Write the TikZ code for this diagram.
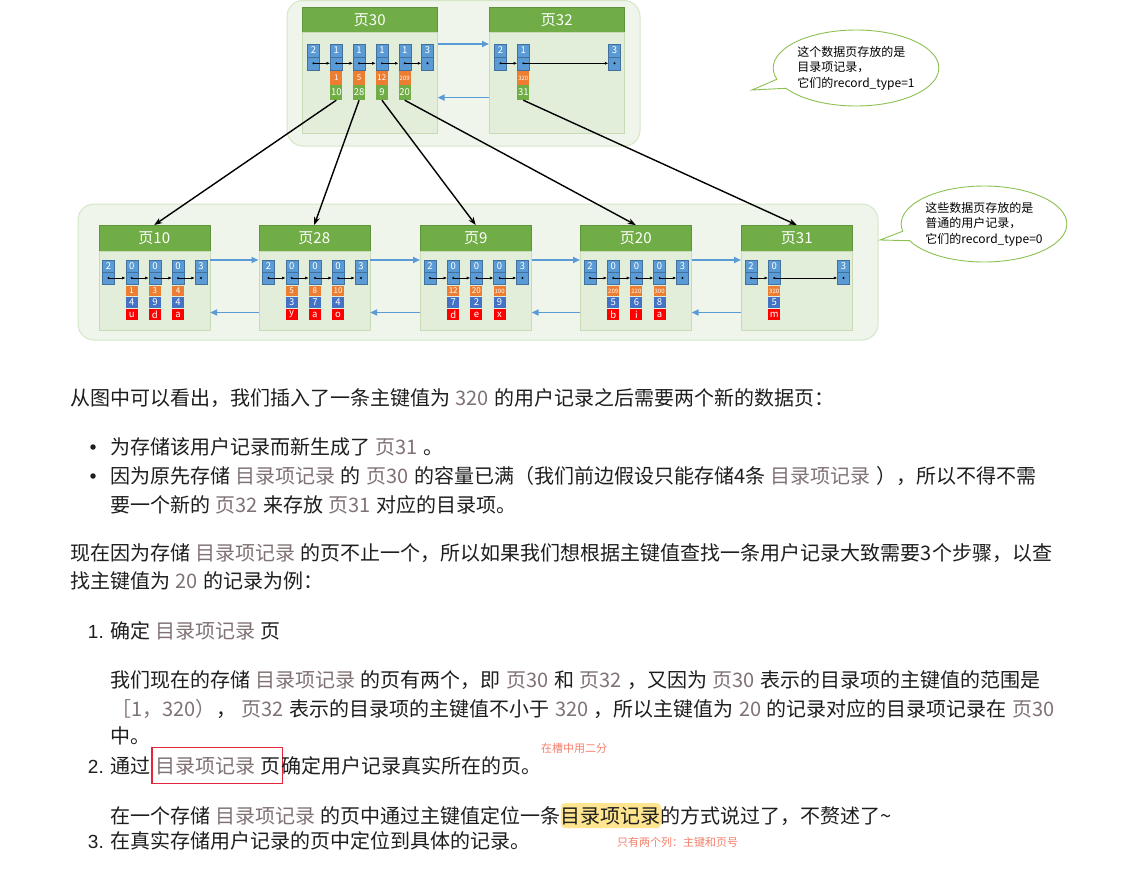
\documentclass[tikz,border=0pt]{standalone}
\usepackage{fontspec}
\setmainfont{Noto Sans CJK SC}
\newfontfamily\latinfont{Liberation Sans}
\usepackage{tikz}
\usetikzlibrary{positioning,shapes.callouts,arrows.meta}
\usepackage{xcolor}
\definecolor{headgreen}{HTML}{70AD47}
\definecolor{bodygreen}{HTML}{E2EEDA}
\definecolor{bodyedge}{HTML}{C6DBB6}
\definecolor{groupfill}{HTML}{EFF5EA}
\definecolor{groupedge}{HTML}{D5E6C8}
\definecolor{slotblue}{HTML}{5B9BD5}
\definecolor{slotedge}{HTML}{41719C}
\definecolor{keyorange}{HTML}{ED7D31}
\definecolor{valblue}{HTML}{4472C4}
\definecolor{charred}{HTML}{FF0000}
\definecolor{linkblue}{HTML}{5B9BD5}
\definecolor{bubblegreen}{HTML}{8CC152}
\definecolor{codegray}{RGB}{128,114,116}
\definecolor{notered}{RGB}{246,128,108}
\definecolor{marker}{HTML}{FFE58F}
\definecolor{boxred}{HTML}{E3263A}
\definecolor{ink}{HTML}{1E1E1E}

\newcommand{\bodysize}{\fontsize{20}{24}\selectfont}
\newcommand{\code}[1]{\hspace{1pt}{\color{codegray}#1}\hspace{1pt}}
\newcommand{\keytext}[1]{\ifnum#1>99 \fontsize{6}{6}\selectfont\fi#1}

\tikzset{
  group/.style={fill=groupfill, draw=groupedge, line width=1pt, rounded corners=16pt},
  pagehead/.style={fill=headgreen, draw=headgreen!85!black, line width=0.5pt, text=white,
    font=\fontsize{15}{15}\selectfont, inner sep=0pt, anchor=north west},
  pagebody/.style={fill=bodygreen, draw=bodyedge, line width=0.6pt, inner sep=0pt, anchor=north west},
  reccell/.style={minimum width=12pt, inner sep=0pt, text=white, font=\fontsize{9.5}{9.5}\selectfont},
  slotcell/.style={reccell, fill=slotblue, draw=slotedge, line width=0.4pt, minimum height=12pt},
  dotcell/.style={slotcell},
  keycell/.style={reccell, fill=keyorange, minimum height=10.5pt, font=\fontsize{8}{8}\selectfont},
  valcell/.style={reccell, fill=valblue, minimum height=11pt},
  charcell/.style={reccell, fill=charred, minimum height=11.5pt},
  pagecell/.style={reccell, fill=headgreen, minimum height=15pt},
  nextrec/.style={-{Latex[length=3.5pt,width=3pt]}, line width=0.6pt},
  sibling/.style={linkblue, line width=1.6pt, -{Triangle[length=7pt,width=6pt]}},
  child/.style={line width=1.4pt, -{Stealth[length=8pt,width=6pt]}},
  bubble/.style={ellipse callout, draw=bubblegreen, fill=white, line width=0.9pt,
    align=left, font=\fontsize{12}{15.5}\selectfont, inner sep=0pt},
  para/.style={inner sep=0pt, outer sep=0pt, anchor=base west, font=\bodysize, text=ink},
  listnum/.style={inner sep=0pt, anchor=base east, font=\latinfont\fontsize{19}{24}\selectfont, text=ink},
  dotmark/.style={circle, fill=ink, inner sep=0pt, minimum size=5.5pt},
  remark/.style={inner sep=0pt, anchor=west, font=\fontsize{11}{13}\selectfont, text=notered},
}

% index page: number, left x, key/child list, count
\newcommand{\indexpage}[4]{%
  \node[pagehead, minimum width=135pt, minimum height=25pt] (h#1) at (#2,7) {页#1};
  \node[pagebody, minimum width=135pt, minimum height=101pt] (b#1) at (#2,32) {};
  \node[slotcell, minimum height=13pt] (s#1-0) at ({#2+11.5},50.2) {2};
  \node[dotcell, minimum height=13pt] (d#1-0) at ({#2+11.5},63.3) {};
  \foreach \rk/\rp [count=\j] in {#3} {
    \pgfmathsetmacro{\cx}{#2+11.5+22.8*\j}
    \pgfmathtruncatemacro{\prev}{\j-1}
    \node[slotcell, minimum height=13pt] (s#1-\j) at (\cx,50.2) {1};
    \node[dotcell, minimum height=13pt] (d#1-\j) at (\cx,63.3) {};
    \node[keycell, minimum height=14pt] (k#1-\j) at (\cx,78) {\keytext{\rk}};
    \node[pagecell] (g#1-\j) at (\cx,92.5) {\rp};
    \draw[nextrec] (d#1-\prev.center) -- (d#1-\j.west);
  }
  \node[slotcell, minimum height=13pt] (s#1-sup) at ({#2+125.5},50.2) {3};
  \node[dotcell, minimum height=13pt] (d#1-sup) at ({#2+125.5},63.3) {};
  \draw[nextrec] (d#1-#4.center) -- (d#1-sup.west);
  \foreach \j in {0,...,#4,sup} \fill (d#1-\j.center) circle (1.1pt);
}

% leaf page: number, left x, key/value/char list, count
\newcommand{\leafpage}[4]{%
  \node[pagehead, minimum width=111pt, minimum height=25.5pt] (h#1) at (#2,225) {页#1};
  \node[pagebody, minimum width=111pt, minimum height=79pt] (b#1) at (#2,250.5) {};
  \node[slotcell] (s#1-0) at ({#2+10},266) {2};
  \node[dotcell] (d#1-0) at ({#2+10},278) {};
  \foreach \rk/\rv/\rc [count=\j] in {#3} {
    \pgfmathsetmacro{\cx}{#2+10+23.2*\j}
    \pgfmathtruncatemacro{\prev}{\j-1}
    \node[slotcell] (s#1-\j) at (\cx,266) {0};
    \node[dotcell] (d#1-\j) at (\cx,278) {};
    \node[keycell] (k#1-\j) at (\cx,291) {\keytext{\rk}};
    \node[valcell] (v#1-\j) at (\cx,302.5) {\rv};
    \node[charcell] (c#1-\j) at (\cx,314.5) {\rc};
    \draw[nextrec] (d#1-\prev.center) -- (d#1-\j.west);
  }
  \node[slotcell] (s#1-sup) at ({#2+102.5},266) {3};
  \node[dotcell] (d#1-sup) at ({#2+102.5},278) {};
  \draw[nextrec] (d#1-#4.center) -- (d#1-sup.west);
  \foreach \j in {0,...,#4,sup} \fill (d#1-\j.center) circle (1.1pt);
}

\begin{document}
\begin{tikzpicture}[x=1pt,y=-1pt]
    \useasboundingbox (0,0) rectangle (1126,870);
    \fill[white] (0,0) rectangle (1126,870);

    % the two levels
    \draw[group] (287,0.5) rectangle (640,146);
    \draw[group] (78,204) rectangle (878,340);

    \indexpage{30}{302}{1/10,5/28,12/9,209/20}{4}
    \indexpage{32}{489}{320/31}{1}

    \leafpage{10}{98.5}{1/4/u,3/9/d,4/4/a}{3}
    \leafpage{28}{258.5}{5/3/y,8/7/a,10/4/o}{3}
    \leafpage{9}{420}{12/7/d,20/2/e,100/9/x}{3}
    \leafpage{20}{580}{209/5/b,220/6/i,300/8/a}{3}
    \leafpage{31}{741}{320/5/m}{1}

    % page links
    \draw[sibling] ([yshift=-12pt]b30.north east) -- ([yshift=-12pt]b32.north west);
    \draw[sibling] ([yshift=36pt]b32.south west) -- ([yshift=36pt]b30.south east);
    \foreach \lft/\rgt in {10/28,28/9,9/20,20/31} {
        \draw[sibling] ([yshift=-9.5pt]b\lft.north east) -- ([yshift=-9.5pt]b\rgt.north west);
        \draw[sibling] ([yshift=17.6pt]b\rgt.south west) -- ([yshift=17.6pt]b\lft.south east);
    }

    \draw[child] (g30-1.south) -- (h10.north);
    \draw[child] (g30-2.south) -- (h28.north);
    \draw[child] (g30-3.south) -- (h9.north);
    \draw[child] (g30-4.south) -- (h20.north);
    \draw[child] (g32-1.south) -- (h31.north);

    \node[bubble, minimum width=140pt, minimum height=76pt, callout absolute pointer={(752,90)}]
        (dirnote) at (856,68) {这个数据页存放的是\\目录项记录，\\它们的record\_type=1};
    \node[bubble, minimum width=158pt, minimum height=76pt, callout absolute pointer={(880,240)}]
        (leafnote) at (984,224) {这些数据页存放的是\\普通的用户记录，\\它们的record\_type=0};

    % text below
    \node[para] (t1) at (70,405.5) {从图中可以看出，我们插入了一条主键值为 \code{320} 的用户记录之后需要两个新的数据页：};
    \node[dotmark] (m1) at (93,447) {};
    \node[para] (t2) at (110,454.5) {为存储该用户记录而新生成了 \code{页31} 。};
    \node[dotmark] (m2) at (93,476) {};
    \node[para] (t3) at (110,483.5) {因为原先存储 \code{目录项记录} 的 \code{页30} 的容量已满（我们前边假设只能存储4条 \code{目录项记录} ），所以不得不需};
    \node[para] (t4) at (110,512.5) {要一个新的 \code{页32} 来存放 \code{页31} 对应的目录项。};
    \node[para] (t5) at (70,560) {现在因为存储 \code{目录项记录} 的页不止一个，所以如果我们想根据主键值查找一条用户记录大致需要3个步骤，以查};
    \node[para] (t6) at (70,588.5) {找主键值为 \code{20} 的记录为例：};

    \node[listnum] (n1) at (104,638.5) {1.};
    \node[para] (t7) at (110,638.5) {确定 \code{目录项记录} 页};
    \node[para] (t8) at (110,687.5) {我们现在的存储 \code{目录项记录} 的页有两个，即 \code{页30} 和 \code{页32} ，又因为 \code{页30} 表示的目录项的主键值的范围是};
    \node[para] (t9) at (110,716.5) {\code{［1，320）}， \code{页32} 表示的目录项的主键值不小于 \code{320} ，所以主键值为 \code{20} 的记录对应的目录项记录在 \code{页30}};
    \node[para] (t10) at (110,743.5) {中。};

    \node[listnum] (n2) at (104,773) {2.};
    \node[para] (t11) at (110,773) {通过 };
    \node[para, inner xsep=2pt, inner ysep=9pt] (pick) at ([xshift=2pt]t11.base east) {\code{目录项记录} 页};
    \draw[boxred, line width=1.3pt] (pick.south west) rectangle (pick.north east);
    \node[para] (t12) at ([xshift=-1pt]pick.base east) {确定用户记录真实所在的页。};
    \node[remark] (hint1) at (541,748) {在槽中用二分};

    \node[para] (t13) at (110,823) {在一个存储 \code{目录项记录} 的页中通过主键值定位一条};
    \node[para, fill=marker, rounded corners=4pt, inner ysep=3.5pt] (mark) at (t13.base east) {目录项记录};
    \node[para] (t14) at (mark.base east) {的方式说过了，不赘述了\textasciitilde};

    \node[listnum] (n3) at (104,848.5) {3.};
    \node[para] (t15) at (110,848.5) {在真实存储用户记录的页中定位到具体的记录。};
    \node[remark] (hint2) at (617,842) {只有两个列：主键和页号};
\end{tikzpicture}
\end{document}
